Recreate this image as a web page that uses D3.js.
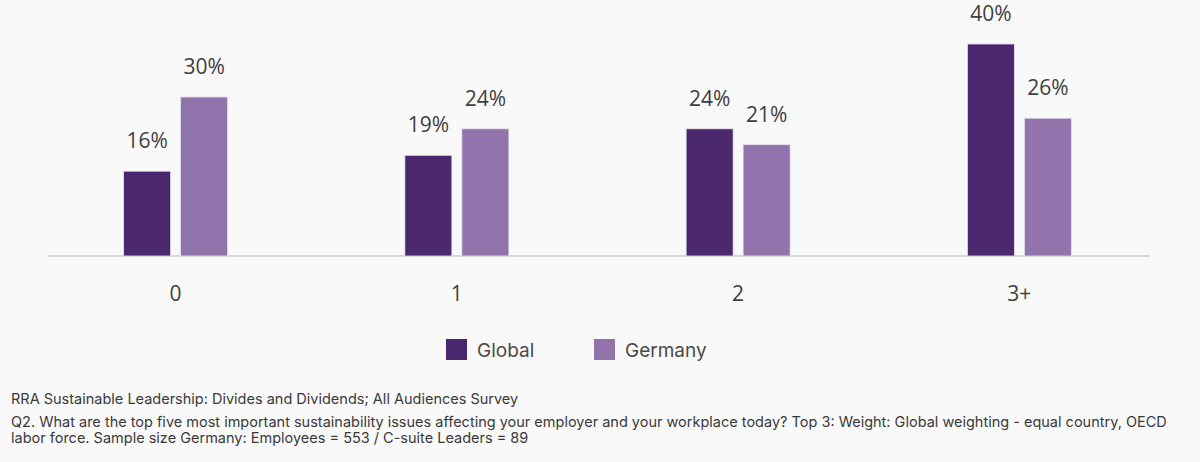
<!DOCTYPE html>
<html>
<head>
<meta charset="utf-8">
<script src="https://cdn.jsdelivr.net/npm/d3@7"></script>
<style>
  html, body { margin: 0; padding: 0; background: #f9f9f9; }
  svg { display: block; }
</style>
</head>
<body>
<svg id="chart" width="1200" height="462"></svg>
<script>
var categories = ['0', '1', '2', '3+'];
var seriesNames = ['Global', 'Germany'];
var globalValues = [16, 19, 24, 40];
var germanyValues = [30, 24, 21, 26];
var sourceLines = [
    'RRA Sustainable Leadership: Divides and Dividends; All Audiences Survey',
    'Q2. What are the top five most important sustainability issues affecting your employer and your workplace today? Top 3: Weight: Global weighting - equal country, OECD',
    'labor force. Sample size Germany: Employees = 553 / C-suite Leaders = 89'
];

var colors = { Global: '#4b286d', Germany: '#9274ac' };
var svg = d3.select('#chart'),
    baseline = 256,
    labelFont = '"Open Sans", Lato, sans-serif',
    textFont = 'Inter, Roboto, sans-serif';

var rows = categories.map(function (c, i) {
    return { category: c, values: [
        { name: 'Global', value: globalValues[i] },
        { name: 'Germany', value: germanyValues[i] }
    ] };
});

var x0 = d3.scaleBand().domain(categories).range([35, 1160]);
var x1 = d3.scaleBand().domain(seriesNames)
    .range([x0.bandwidth() / 2 - 52, x0.bandwidth() / 2 + 52])
    .paddingInner(0.1754);
var y = d3.scaleLinear().domain([0, 40]).range([baseline, 44]);

// baseline
svg.append('line')
    .attr('x1', 48).attr('x2', 1150)
    .attr('y1', baseline).attr('y2', baseline)
    .attr('stroke', '#d6d6d6')
    .attr('stroke-width', 2);

var groups = svg.selectAll('g.group')
    .data(rows)
    .enter().append('g')
    .attr('class', 'group')
    .attr('transform', function (d) { return 'translate(' + x0(d.category) + ',0)'; });

groups.selectAll('rect')
    .data(function (d) { return d.values; })
    .enter().append('rect')
    .attr('x', function (d) { return x1(d.name); })
    .attr('y', function (d) { return y(d.value); })
    .attr('width', x1.bandwidth())
    .attr('height', function (d) { return baseline - y(d.value); })
    .attr('fill', function (d) { return colors[d.name]; })
    .attr('stroke', '#e6e0ec')
    .attr('stroke-width', 0.8);

groups.selectAll('text.value')
    .data(function (d) { return d.values; })
    .enter().append('text')
    .attr('class', 'value')
    .attr('x', function (d) { return x1(d.name) + x1.bandwidth() / 2; })
    .attr('y', function (d) { return y(d.value) - 23; })
    .attr('text-anchor', 'middle')
    .attr('font-family', labelFont)
    .attr('font-size', 21)
    .attr('fill', '#404040')
    .text(function (d) { return d.value + '%'; });

// category labels
svg.selectAll('text.cat')
    .data(categories)
    .enter().append('text')
    .attr('class', 'cat')
    .attr('x', function (d) { return x0(d) + x0.bandwidth() / 2; })
    .attr('y', 301)
    .attr('text-anchor', 'middle')
    .attr('font-family', labelFont)
    .attr('font-size', 21)
    .attr('fill', '#404040')
    .text(function (d) { return d; });

// legend
var legendX = [446, 594];
var legend = svg.selectAll('g.legend')
    .data(seriesNames)
    .enter().append('g')
    .attr('class', 'legend')
    .attr('transform', function (d, i) { return 'translate(' + legendX[i] + ',339)'; });

legend.append('rect')
    .attr('width', 21).attr('height', 21)
    .attr('fill', function (d) { return colors[d]; });

legend.append('text')
    .attr('x', 31)
    .attr('y', 18)
    .attr('font-family', textFont)
    .attr('font-size', 19)
    .attr('fill', '#4a4a4a')
    .text(function (d) { return d; });

// source notes
var lineY = [404, 427, 443];
svg.selectAll('text.note')
    .data(sourceLines)
    .enter().append('text')
    .attr('class', 'note')
    .attr('x', 11)
    .attr('y', function (d, i) { return lineY[i]; })
    .attr('font-family', textFont)
    .attr('font-size', 14.5)
    .attr('fill', '#3a3a3a')
    .text(function (d) { return d; });
</script>
</body>
</html>
